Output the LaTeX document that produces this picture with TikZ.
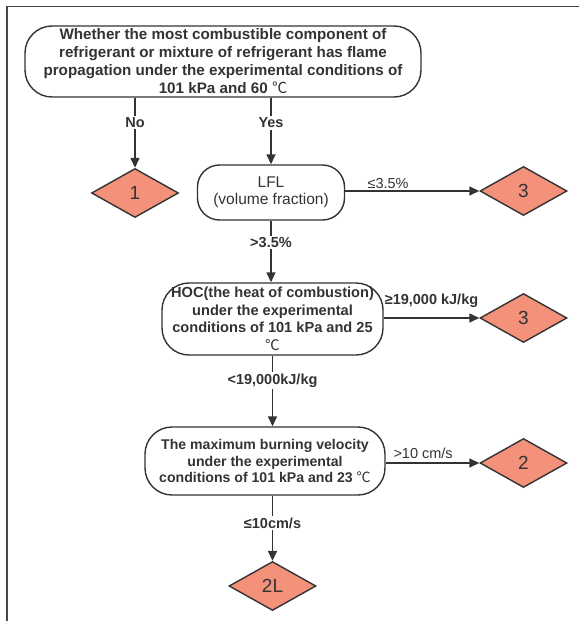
\documentclass[tikz,border=0pt]{standalone}
\usepackage{fontspec}
\setmainfont{Liberation Sans}
\newfontfamily\cjkf{Noto Sans CJK SC}
\newcommand\degc{{\cjkf\mdseries ℃}}
\usetikzlibrary{shapes.geometric,arrows.meta}
\definecolor{dia}{HTML}{F4917A}
\definecolor{ln}{HTML}{333333}
\begin{document}
\begin{tikzpicture}[x=1pt,y=-1pt,
  box/.style={draw=ln,line width=1.4pt,rounded corners=27pt,align=center,inner sep=0pt,text=ln},
  dmd/.style={diamond,draw=ln,line width=1.4pt,fill=dia,minimum width=87pt,minimum height=49pt,inner sep=0pt,aspect=1.78,font=\fontsize{19}{19}\selectfont,text=ln},
  arr/.style={draw=ln,line width=1.5pt,-{Triangle[length=10pt,width=9pt]}},
  lbl/.style={fill=white,inner sep=1.5pt,text=ln,font=\bfseries\fontsize{14.5}{14.5}\selectfont},
  lblr/.style={inner sep=1.5pt,text=ln,font=\fontsize{14.5}{14.5}\selectfont},
]
\useasboundingbox (0,0) rectangle (579,621);
\draw[draw=ln!90,line width=1.5pt] (7,621) -- (7,6.5) -- (579,6.5);

\node[box,minimum width=396pt,minimum height=71pt,font=\bfseries\fontsize{15.2}{18}\selectfont] (top) at (223,61.5)
  {Whether the most combustible component of\\refrigerant or mixture of refrigerant has flame\\propagation under the experimental conditions of\\101 kPa and 60 \degc};
\node[box,rounded corners=22pt,minimum width=147pt,minimum height=55pt,font=\fontsize{15.5}{17}\selectfont] (lfl) at (271,192.5)
  {LFL\\(volume fraction)};
\node[box,minimum width=221pt,minimum height=72pt,font=\bfseries\fontsize{14.6}{17.5}\selectfont] (hoc) at (272.5,319)
  {HOC(the heat of combustion)\\under the experimental\\conditions of 101 kPa and 25\\\degc};
\node[box,minimum width=240pt,minimum height=68pt,font=\bfseries\fontsize{14.1}{16.5}\selectfont] (vel) at (265,461)
  {The maximum burning velocity\\under the experimental\\conditions of 101 kPa and 23 \degc};

\node[dmd] (d1) at (135,193) {1};
\node[dmd] (d3a) at (523.5,191) {3};
\node[dmd] (d3b) at (523.5,318) {3};
\node[dmd] (d2) at (523.5,463) {2};
\node[dmd] (d2l) at (272.5,586) {2L};

\draw[arr] (top.south -| d1) -- node[lbl,pos=0.36] {No} (d1.north);
\draw[arr] (top.south -| lfl) -- node[lbl,pos=0.38] {Yes} (lfl.north);
\draw[arr] (lfl.south) -- node[lbl,pos=0.35] {>3.5\%} (lfl.south |- hoc.north);
\draw[arr] (hoc.south) -- node[lbl,pos=0.35] {<19,000kJ/kg} (hoc.south |- vel.north);
\draw[arr] (vel.south -| d2l) -- node[lbl,pos=0.42] {≤10cm/s} (d2l.north);

\draw[arr] (lfl.east |- d3a) -- node[lblr,pos=0.32,anchor=south] {≤3.5\%} (d3a.west);
\draw[arr] (hoc.east |- d3b) -- node[lbl,fill=none,pos=0.5,anchor=south,yshift=8pt] {≥19,000 kJ/kg} (d3b.west);
\draw[arr] (vel.east |- d2) -- node[lblr,pos=0.4,anchor=south,yshift=2pt] {>10 cm/s} (d2.west);
\end{tikzpicture}
\end{document}
